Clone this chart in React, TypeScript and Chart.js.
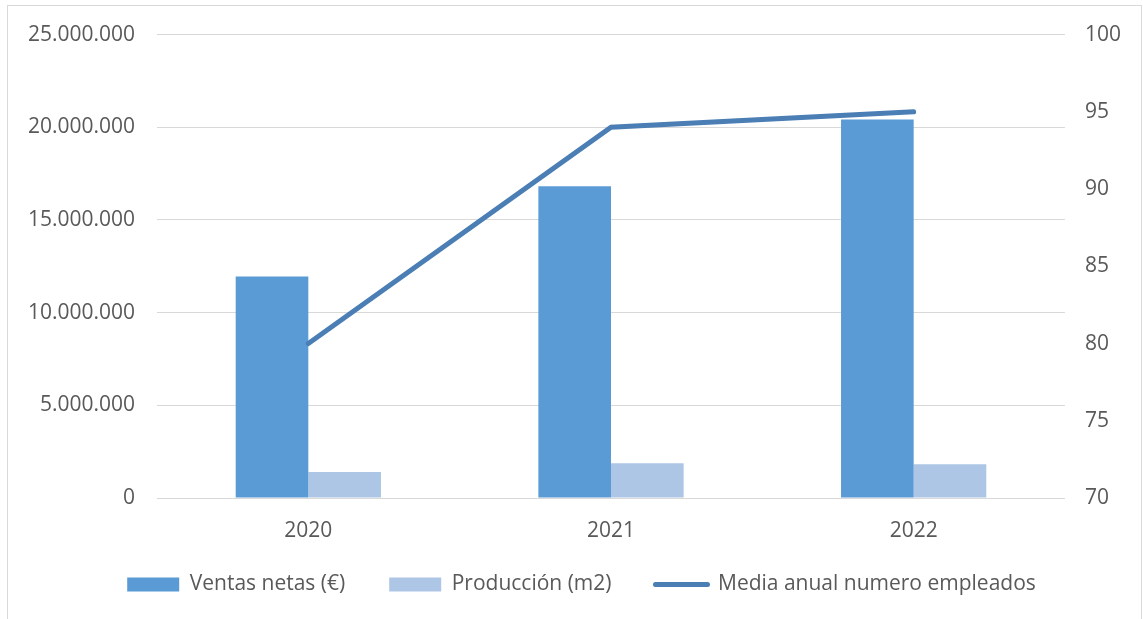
import React, { useEffect, useRef } from "react";
import { Chart, registerables } from "chart.js";

Chart.register(...registerables);

const categories = ["2020", "2021", "2022"];
const ventasNetas = [11950000, 16820000, 20420000];
const produccion = [1400000, 1880000, 1820000];
const empleados = [80, 94, 95];
const seriesNames = ["Ventas netas (€)", "Producción (m2)", "Media anual numero empleados"];

const FONT = "'Open Sans', 'Noto Sans', sans-serif";
const TEXT = "#595959";
const GRID = "#d9d9d9";
const C_VENTAS = "#5b9bd5";
const C_PROD = "#adc6e6";
const C_LINE = "#4a7eb4";

const fmt = (v: number) => Math.round(v).toString().replace(/\B(?=(\d{3})+(?!\d))/g, ".");

const legendShift = {
  id: "legendShift",
  afterLayout(chart: any) {
    const lg = chart.legend;
    if (!lg) return;
    lg.top -= 14;
    lg.bottom -= 14;
    lg.left += 10;
    lg.right += 10;
  },
};

export default function App() {
  const ref = useRef<HTMLCanvasElement | null>(null);
  useEffect(() => {
    if (!ref.current) return;
    const chart = new Chart(ref.current, {
      data: {
        labels: categories,
        datasets: [
          {
            type: "bar",
            label: seriesNames[0],
            data: ventasNetas,
            backgroundColor: C_VENTAS,
            yAxisID: "y",
            order: 1,
            categoryPercentage: 0.48,
            barPercentage: 1,
          },
          {
            type: "bar",
            label: seriesNames[1],
            data: produccion,
            backgroundColor: C_PROD,
            yAxisID: "y",
            order: 1,
            categoryPercentage: 0.48,
            barPercentage: 1,
          },
          {
            type: "line",
            label: seriesNames[2],
            data: empleados,
            borderColor: C_LINE,
            borderWidth: 5,
            borderCapStyle: "round",
            pointRadius: 0,
            tension: 0,
            yAxisID: "y1",
            order: 0,
          },
        ],
      } as any,
      plugins: [legendShift],
      options: {
        animation: false,
        responsive: true,
        maintainAspectRatio: false,
        layout: { padding: { top: 34, left: 0, right: 0, bottom: 0 } },
        plugins: {
          tooltip: { enabled: false },
          legend: {
            position: "bottom",
            labels: {
              font: { family: FONT, size: 21 },
              color: TEXT,
              usePointStyle: true,
              pointStyleWidth: 52,
              boxHeight: 14,
              padding: 44,
              sort: (a: any, b: any) => a.datasetIndex - b.datasetIndex,
              generateLabels: (c: any) =>
                c.data.datasets.map((ds: any, i: number) => ({
                  text: ds.label,
                  fillStyle: ds.type === "line" ? C_LINE : ds.backgroundColor,
                  strokeStyle: ds.type === "line" ? C_LINE : ds.backgroundColor,
                  lineWidth: ds.type === "line" ? 5 : 0,
                  lineCap: "round",
                  pointStyle: ds.type === "line" ? "line" : "rect",
                  fontColor: TEXT,
                  hidden: false,
                  datasetIndex: i,
                })),
            },
          },
        },
        scales: {
          x: {
            grid: { display: false, drawTicks: false },
            border: { display: false },
            ticks: { font: { family: FONT, size: 21 }, color: TEXT, padding: 20 },
            afterFit: (s: any) => {
              s.height = 46;
            },
          },
          y: {
            position: "left",
            min: 0,
            max: 25000000,
            ticks: {
              stepSize: 5000000,
              font: { family: FONT, size: 21 },
              color: TEXT,
              padding: 22,
              callback: (v: any) => fmt(Number(v)),
            },
            grid: { color: GRID, lineWidth: 1, drawTicks: false },
            border: { display: false },
            afterFit: (s: any) => {
              s.width = 157;
            },
          },
          y1: {
            position: "right",
            min: 70,
            max: 100,
            ticks: {
              stepSize: 5,
              font: { family: FONT, size: 21 },
              color: TEXT,
              padding: 20,
            },
            grid: { drawOnChartArea: false, drawTicks: false },
            border: { display: false },
            afterFit: (s: any) => {
              s.width = 78;
            },
          },
        },
      } as any,
    });
    return () => chart.destroy();
  }, []);

  return (
    <div style={{ position: "fixed", left: 0, top: 0, width: 1143, height: 619, overflow: "hidden", background: "#fff" }}>
      <div
        style={{
          position: "absolute",
          left: 7,
          top: 5,
          width: 1135,
          height: 700,
          border: "1px solid #d9d9d9",
          boxSizing: "border-box",
        }}
      />
      <div style={{ position: "absolute", left: 0, top: 0, width: 1143, height: 619 }}>
        <canvas ref={ref} />
      </div>
    </div>
  );
}
